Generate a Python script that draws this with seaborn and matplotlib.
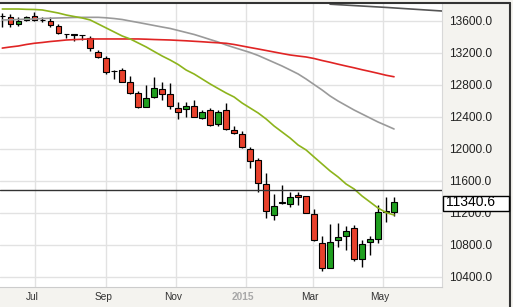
import numpy as np
import pandas as pd
import matplotlib
matplotlib.use("Agg")
import matplotlib.pyplot as plt
import matplotlib.dates as mdates
from matplotlib.transforms import ScaledTranslation, blended_transform_factory
from matplotlib.patches import Rectangle
from matplotlib.lines import Line2D
import seaborn as sns

# ---------------- data ----------------
first_week = "2014-06-02"
n_weeks = 50

open_ = [13660, 13646, 13559, 13609, 13659, 13612, 13600, 13534, 13436, 13430,
         13420, 13380, 13213, 13134, 12975, 12984, 12831, 12693, 12526, 12643,
         12743, 12681, 12506, 12495, 12535, 12381, 12485, 12306, 12485, 12235,
         12185, 11997, 11861, 11557, 11174, 11325, 11311, 11424, 11411, 11186,
         10828, 10517, 10862, 10912, 11008, 10621, 10837, 10871, 11208, 11215]
high = [13700, 13684, 13646, 13659, 13709, 13646, 13646, 13559, 13440, 13434,
        13424, 13412, 13234, 13159, 12984, 13013, 12910, 12722, 12797, 12893,
        12838, 12818, 12585, 12585, 12610, 12480, 12506, 12485, 12576, 12285,
        12227, 12027, 11886, 11695, 11436, 11549, 11457, 11465, 11415, 11249,
        10912, 11062, 11070, 11037, 11049, 10862, 10916, 11299, 11403, 11395]
low = [13525, 13521, 13534, 13596, 13596, 13584, 13521, 13434, 13380, 13350,
       13360, 13225, 13134, 12934, 12868, 12835, 12685, 12506, 12518, 12640,
       12610, 12494, 12373, 12398, 12398, 12375, 12285, 12285, 12240, 12185,
       12011, 11765, 11465, 11133, 11112, 11316, 11278, 11299, 11195, 10855,
       10479, 10510, 10778, 10737, 10603, 10529, 10675, 10828, 11083, 11161]
close = [13655, 13559, 13596, 13652, 13609, 13606, 13543, 13446, 13432, 13426,
         13416, 13255, 13150, 12960, 12968, 12838, 12693, 12526, 12631, 12756,
         12681, 12535, 12464, 12530, 12401, 12456, 12298, 12464, 12244, 12194,
         12020, 11852, 11577, 11224, 11290, 11332, 11395, 11395, 11203, 10862,
         10508, 10833, 10896, 10974, 10621, 10812, 10874, 11208, 11220, 11340.6]

ma_green = [13746, 13746, 13746, 13742, 13740, 13734, 13715, 13696, 13671, 13652,
            13634, 13609, 13559, 13509, 13459, 13409, 13372, 13322, 13272, 13215,
            13159, 13109, 13053, 12984, 12934, 12872, 12810, 12753, 12697, 12647,
            12572, 12510, 12448, 12373, 12285, 12210, 12135, 12048, 11986, 11898,
            11811, 11724, 11649, 11561, 11499, 11411, 11336, 11261, 11205, 11174]
ma_red = [13258, 13272, 13284, 13303, 13318, 13328, 13340, 13349, 13359, 13364,
          13368, 13372, 13372, 13372, 13372, 13372, 13372, 13372, 13369, 13365,
          13362, 13359, 13354, 13349, 13343, 13337, 13330, 13324, 13318, 13303,
          13284, 13265, 13247, 13228, 13209, 13190, 13172, 13159, 13147, 13128,
          13103, 13081, 13057, 13034, 13012, 12988, 12966, 12943, 12919, 12900]
ma_gray = [13609, 13611, 13615, 13619, 13621, 13627, 13631, 13634, 13637, 13640,
           13642, 13642, 13642, 13636, 13627, 13615, 13596, 13578, 13559, 13540,
           13521, 13503, 13478, 13453, 13428, 13397, 13365, 13334, 13297, 13265,
           13234, 13203, 13166, 13122, 13078, 13034, 12985, 12935, 12872, 12803,
           12735, 12660, 12597, 12541, 12485, 12435, 12385, 12335, 12292, 12248]
ma_long_dates = ["2015-03-16", "2015-05-05", "2015-06-22"]
ma_long = [13806, 13765, 13721]

ref_level = 11490
last_price = 11340.6

y_ticks = [10400, 10800, 11200, 11600, 12000, 12400, 12800, 13200, 13600]
y_tick_labels = ["10400.0", "10800.0", "11200.0", "11600.0", "12000.0",
                 "12400.0", "12800.0", "13200.0", "13600.0"]
x_tick_dates = ["2014-07-01", "2014-09-01", "2014-11-01", "2015-01-01",
                "2015-03-01", "2015-05-01"]
x_tick_labels = ["Jul", "Sep", "Nov", "2015", "Mar", "May"]

# ---------------- style ----------------
sns.set_style("white")
plt.rcParams['font.family'] = ['Liberation Sans', 'DejaVu Sans']

W, H = 513, 307
fig = plt.figure(figsize=(W / 100, H / 100), dpi=100, facecolor='#f4f3ef')
ax = fig.add_axes([0, 20 / H, 442 / W, 284 / H])
ax.set_facecolor('white')

dates = pd.date_range(first_week, periods=n_weeks, freq='7D')
xnum = mdates.date2num(dates)
o = np.array(open_, dtype=float)
c = np.array(close, dtype=float)
h = np.array(high, dtype=float)
l = np.array(low, dtype=float)

# wicks
ax.vlines(xnum, l, h, color='black', lw=1, zorder=3)
# bodies
cols = ['#1f9f1f' if cc > oo else ('#e8412c' if cc < oo else 'black')
        for oo, cc in zip(o, c)]
ax.bar(xnum, np.maximum(np.abs(c - o), 5), bottom=np.minimum(o, c), width=4.8,
       color=cols, edgecolor='black', linewidth=0.8, zorder=4)

# moving averages
sns.lineplot(x=xnum, y=ma_gray, ax=ax, color='#9a9a9a', lw=1.2, legend=False, zorder=5)
sns.lineplot(x=xnum, y=ma_red, ax=ax, color='#e02424', lw=1.2, legend=False, zorder=5)
sns.lineplot(x=xnum, y=ma_green, ax=ax, color='#8db41c', lw=1.2, legend=False, zorder=5)
sns.lineplot(x=mdates.date2num(pd.to_datetime(ma_long_dates)), y=ma_long, ax=ax,
             color='#555555', lw=1.2, legend=False, zorder=5)

ax.axhline(ref_level, color='#333333', lw=1, zorder=6)

# axes limits
ax.set_xlim(mdates.date2num(pd.Timestamp("2014-05-31")),
            mdates.date2num(pd.Timestamp("2015-06-22")))
ax.set_ylim(10275, 13821)

# grid & ticks
ax.set_axisbelow(True)
ax.set_yticks(y_ticks)
ax.set_xticks(mdates.date2num(pd.to_datetime(x_tick_dates)))
ax.grid(True, color='#e2e2e2', lw=1)
ax.yaxis.tick_right()
ax.set_yticklabels(y_tick_labels)
ax.set_xticklabels(x_tick_labels)
ax.tick_params(axis='y', length=0, pad=5, labelsize=8.6, labelcolor='#222222',
               left=False, labelleft=False, right=True, labelright=True)
ax.tick_params(axis='x', length=0, pad=3.5, labelsize=7.3, labelcolor='#333333')
shift = ScaledTranslation(-3 / 100, 0, fig.dpi_scale_trans)
for lab in ax.get_xticklabels():
    lab.set_transform(lab.get_transform() + shift)
    if lab.get_text() == "2015":
        lab.set_fontweight('bold')
        lab.set_color('#a8a8a8')

for s in ['top', 'left']:
    ax.spines[s].set_visible(False)
ax.spines['right'].set_color('#d8d8d8')
ax.spines['bottom'].set_color('#cccccc')

# frame lines
fig.add_artist(Line2D([0, 510 / W], [1 - 2.5 / H] * 2, color='#333333', lw=1.5,
                      transform=fig.transFigure))
fig.add_artist(Line2D([510 / W] * 2, [0, 1 - 2.5 / H], color='#333333', lw=1.5,
                      transform=fig.transFigure))

# last price box
trans = blended_transform_factory(fig.transFigure, ax.transData)
rect = Rectangle((443 / W, last_price - 117), 66 / W, 191, transform=trans,
                 facecolor='white', edgecolor='black', lw=1, zorder=10,
                 clip_on=False)
fig.add_artist(rect)
fig.text(446 / W, 0, f"{last_price:.1f}", transform=trans, fontsize=10,
         va='center', ha='left', color='black', zorder=11)
fig.texts[-1].set_y(last_price)

fig.savefig("out.png", dpi=100, facecolor=fig.get_facecolor())
